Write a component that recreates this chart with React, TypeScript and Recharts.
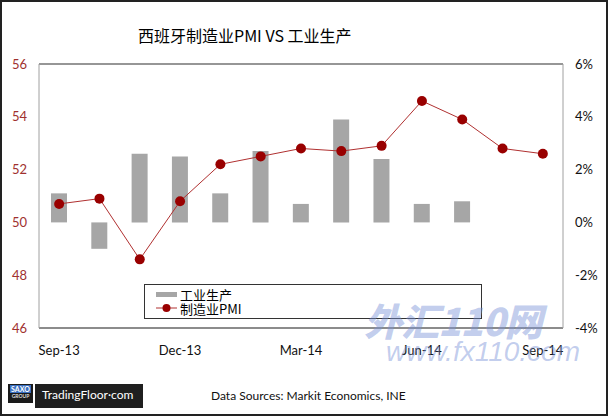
import React from 'react';
import {
  ComposedChart,
  Bar,
  Line,
  XAxis,
  YAxis,
  CartesianGrid,
  ReferenceLine,
  Legend
} from 'recharts';

const months = [
  'Sep-13', 'Oct-13', 'Nov-13', 'Dec-13', 'Jan-14', 'Feb-14', 'Mar-14',
  'Apr-14', 'May-14', 'Jun-14', 'Jul-14', 'Aug-14', 'Sep-14'
];
const pmi = [50.7, 50.9, 48.6, 50.8, 52.2, 52.5, 52.8, 52.7, 52.9, 54.6, 53.9, 52.8, 52.6];
const industrialOutput = [1.1, -1.0, 2.6, 2.5, 1.1, 2.7, 0.7, 3.9, 2.4, 0.7, 0.8, null, null];
const leftTicks = [46, 48, 50, 52, 54, 56];
const rightTicks = [-4, -2, 0, 2, 4, 6];

const data = months.map((m, i) => ({ month: m, pmi: pmi[i], ip: industrialOutput[i] }));

const sans = 'Lato, "Noto Sans", sans-serif';
const cjk = '"Noto Sans CJK SC", sans-serif';

const LegendBox = () => (
  <div
    style={{
      width: 338,
      height: 35,
      border: '1px solid #333',
      background: '#fff',
      boxSizing: 'border-box',
      fontFamily: cjk,
      fontSize: 13,
      lineHeight: '13px',
      color: '#000',
      padding: '3px 0 0 11px'
    }}
  >
    <div style={{ display: 'flex', alignItems: 'center', height: 13 }}>
      <span style={{ width: 21, height: 5, background: '#a6a6a6', marginRight: 3 }} />
      工业生产
    </div>
    <div style={{ display: 'flex', alignItems: 'center', height: 14 }}>
      <svg width={21} height={10} style={{ marginRight: 3 }}>
        <line x1={0} y1={5} x2={21} y2={5} stroke="#b03030" strokeWidth={1} />
        <circle cx={10.5} cy={5} r={4} fill="#990000" />
      </svg>
      制造业PMI
    </div>
  </div>
);

export default function App() {
  return (
    <div
      style={{
        position: 'absolute',
        left: 0,
        top: 0,
        width: 608,
        height: 416,
        background: '#fff',
        border: '2px solid #222',
        boxSizing: 'border-box',
        overflow: 'hidden'
      }}
    >
      <div
        style={{
          position: 'absolute',
          left: 136,
          top: 21,
          fontFamily: cjk,
          fontSize: 16,
          color: '#000',
          whiteSpace: 'nowrap'
        }}
      >
        西班牙制造业PMI VS 工业生产
      </div>

      <div style={{ position: 'absolute', left: -2, top: -2 }}>
        <ComposedChart
          width={608}
          height={416}
          data={data}
          margin={{ top: 64, right: 0, left: 0, bottom: 48 }}
          barCategoryGap={0}
        >
          <CartesianGrid horizontal vertical={false} stroke="#4d4d4d" strokeWidth={1.3} />
          <XAxis
            dataKey="month"
            height={40}
            interval={2}
            tickLine={false}
            axisLine={{ stroke: '#a0a0a0' }}
            tick={{ fill: '#111', fontSize: 13, fontFamily: sans }}
            tickMargin={12}
          />
          <YAxis
            yAxisId="left"
            domain={[46, 56]}
            ticks={leftTicks}
            width={39}
            tickLine={false}
            tickSize={0}
            tickMargin={12}
            axisLine={{ stroke: '#a0a0a0' }}
            tick={{ fill: '#a0312f', fontSize: 13, fontFamily: sans }}
          />
          <YAxis
            yAxisId="right"
            orientation="right"
            domain={[-4, 6]}
            ticks={rightTicks}
            tickFormatter={(v) => `${v}%`}
            width={45}
            tickLine={false}
            tickSize={0}
            tickMargin={12}
            axisLine={{ stroke: '#a0a0a0' }}
            tick={{ fill: '#111', fontSize: 13, fontFamily: sans }}
          />
          <ReferenceLine yAxisId="left" y={56} stroke="#a0a0a0" strokeWidth={1.3} />
          <Bar
            yAxisId="right"
            dataKey="ip"
            fill="#a6a6a6"
            barSize={16}
            isAnimationActive={false}
          />
          <Line
            yAxisId="left"
            dataKey="pmi"
            stroke="#b03030"
            strokeWidth={1}
            dot={{ r: 5, fill: '#990000', stroke: '#990000', strokeWidth: 0 }}
            activeDot={false}
            isAnimationActive={false}
          />
          <Legend
            layout="vertical"
            align="center"
            verticalAlign="middle"
            wrapperStyle={{ left: 144, top: 284, width: 338, height: 35 }}
            content={() => <LegendBox />}
          />
        </ComposedChart>
      </div>

      <div
        style={{
          position: 'absolute',
          left: 362,
          top: 296,
          fontFamily: cjk,
          fontSize: 38,
          fontWeight: 900,
          fontStyle: 'italic',
          color: 'rgba(120, 145, 215, 0.45)',
          whiteSpace: 'nowrap',
          letterSpacing: -1,
          lineHeight: '44px'
        }}
      >
        外汇110网
      </div>
      <div
        style={{
          position: 'absolute',
          left: 384,
          top: 334,
          fontFamily: '"Liberation Sans", sans-serif',
          fontSize: 28,
          fontStyle: 'italic',
          color: 'rgba(120, 145, 215, 0.45)',
          whiteSpace: 'nowrap',
          lineHeight: '32px'
        }}
      >
        www.fx110.com
      </div>

      <div
        style={{
          position: 'absolute',
          left: 6,
          top: 382,
          width: 25,
          height: 19,
          background: '#1a1a1a',
          boxSizing: 'border-box',
          padding: '1px 2px'
        }}
      >
        <div
          style={{
            background: '#3a6fc0',
            color: '#fff',
            fontFamily: sans,
            fontSize: 7,
            fontWeight: 700,
            lineHeight: '8px',
            textAlign: 'center'
          }}
        >
          SAXO
        </div>
        <div
          style={{
            color: '#ddd',
            fontFamily: sans,
            fontSize: 5,
            fontWeight: 700,
            lineHeight: '7px',
            textAlign: 'center'
          }}
        >
          GROUP
        </div>
      </div>
      <div
        style={{
          position: 'absolute',
          left: 33,
          top: 382,
          width: 108,
          height: 24,
          background: '#1f1f1f',
          color: '#fff',
          fontFamily: sans,
          fontSize: 12,
          lineHeight: '22px',
          paddingLeft: 7,
          boxSizing: 'border-box',
          whiteSpace: 'nowrap'
        }}
      >
        TradingFloor·com
      </div>
      <div
        style={{
          position: 'absolute',
          left: 209,
          top: 386,
          fontFamily: sans,
          fontSize: 12,
          color: '#111',
          whiteSpace: 'nowrap'
        }}
      >
        Data Sources: Markit Economics, INE
      </div>
    </div>
  );
}
